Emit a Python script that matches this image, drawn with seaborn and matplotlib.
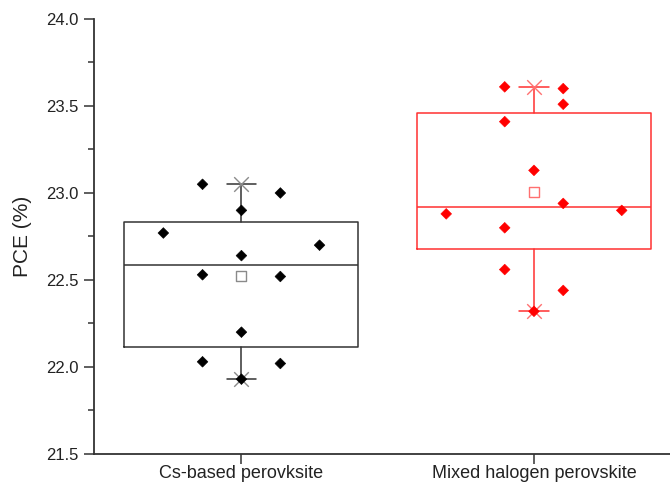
import numpy as np
import pandas as pd
import matplotlib
matplotlib.use("Agg")
import matplotlib.pyplot as plt
from matplotlib.ticker import MultipleLocator, FormatStrFormatter
import seaborn as sns

# Device efficiencies (PCE, %) for the two perovskite compositions
categories = ["Cs-based perovksite", "Mixed halogen perovskite"]
cs_pce = [23.05, 23.00, 22.90, 22.77, 22.70, 22.64, 22.53, 22.52, 22.20, 22.03, 22.02, 21.93]
mixed_pce = [23.61, 23.60, 23.51, 23.41, 23.13, 22.94, 22.88, 22.90, 22.80, 22.56, 22.44, 22.32]

# horizontal spread of the individual points beside each box (in category units)
cs_spread = [-0.133, 0.133, 0.0, -0.267, 0.267, 0.0, -0.133, 0.133, 0.0, -0.133, 0.133, 0.0]
mixed_spread = [-0.1, 0.1, 0.1, -0.1, 0.0, 0.1, -0.3, 0.3, -0.1, -0.1, 0.1, 0.0]

point_colors = ["#000000", "#ff0000"]
box_colors = ["#333333", "#ff3030"]
accent_colors = ["#8a8a8a", "#ff7070"]

sns.set_theme(style="ticks")
plt.rcParams["font.family"] = ["Liberation Sans", "DejaVu Sans"]

df = pd.DataFrame({
    "group": [categories[0]] * len(cs_pce) + [categories[1]] * len(mixed_pce),
    "pce": cs_pce + mixed_pce,
    "spread": cs_spread + mixed_spread,
})
df["pos"] = df["group"].map({c: i for i, c in enumerate(categories)})
df["x"] = df["pos"] + df["spread"]

fig = plt.figure(figsize=(6.7, 4.87), dpi=100)
ax = fig.add_axes([0.1403, 0.0678, 0.8597, 0.8932])

for i, cat in enumerate(categories):
    vals = np.sort(df.loc[df["group"] == cat, "pce"].to_numpy())
    q1, med, q3 = np.percentile(vals, [25, 50, 75], method="midpoint")
    stats = [{
        "med": med, "q1": q1, "q3": q3,
        "whislo": vals.min(), "whishi": vals.max(),
        "mean": vals.mean(), "fliers": [], "label": cat,
    }]
    col = box_colors[i]
    lw = 1.1
    ax.bxp(stats, positions=[i], widths=0.8, capwidths=0.1,
           showmeans=False, showfliers=False, patch_artist=False,
           boxprops=dict(color=col, linewidth=lw),
           medianprops=dict(color=col, linewidth=lw),
           whiskerprops=dict(color=col, linewidth=lw),
           capprops=dict(color=col, linewidth=lw),
           manage_ticks=False)
    # mean marker
    ax.scatter([i], [vals.mean()], marker="s", s=52, facecolor="white",
               edgecolor=accent_colors[i], linewidth=1.0, zorder=4)
    # min / max markers
    ax.scatter([i, i], [vals.min(), vals.max()], marker="x", s=110,
               color=accent_colors[i], linewidth=1.0, zorder=3)

sns.scatterplot(data=df, x="x", y="pce", hue="group", palette=point_colors,
                marker="D", s=30, linewidth=0.4, edgecolor=None,
                legend=False, ax=ax, zorder=5)

ax.set_xlim(-0.504, 1.465)
ax.set_ylim(21.5, 24.0)
ax.set_xticks(range(len(categories)))
ax.set_xticklabels(categories, fontsize=13, color="#222222")
ax.yaxis.set_major_locator(MultipleLocator(0.5))
ax.yaxis.set_minor_locator(MultipleLocator(0.25))
ax.yaxis.set_major_formatter(FormatStrFormatter("%.1f"))
for lab in ax.get_yticklabels():
    lab.set_fontsize(12)
    lab.set_color("#222222")
ax.set_xlabel("")
ax.set_ylabel("PCE (%)", fontsize=15, color="#222222", labelpad=10)

ax.tick_params(axis="y", which="major", direction="out", length=7,
               width=1.1, color="#333333", pad=4)
ax.tick_params(axis="x", which="major", direction="out", length=7,
               width=1.1, color="#333333", pad=1)
ax.tick_params(axis="y", which="minor", direction="out", length=4,
               width=1.1, color="#333333")
sns.despine(ax=ax, top=True, right=True)
for side in ["left", "bottom"]:
    ax.spines[side].set_color("#333333")
    ax.spines[side].set_linewidth(1.3)

fig.savefig("out.png", dpi=100)
